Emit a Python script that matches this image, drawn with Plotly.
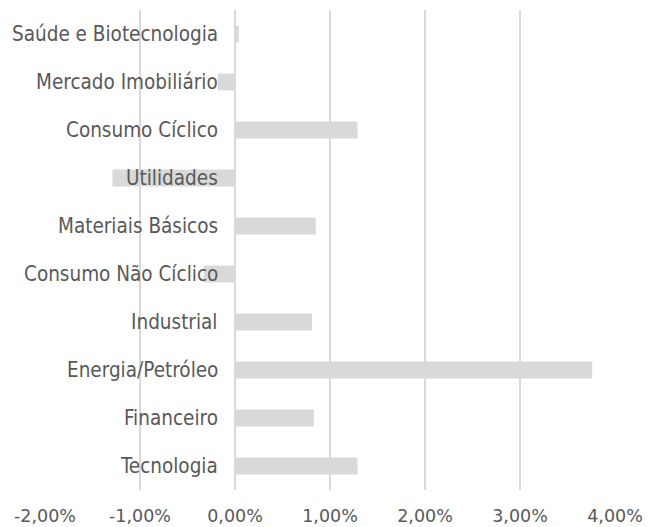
import plotly.graph_objects as go

categories = ["Tecnologia", "Financeiro", "Energia/Petróleo", "Industrial",
              "Consumo Não Cíclico", "Materiais Básicos", "Utilidades",
              "Consumo Cíclico", "Mercado Imobiliário", "Saúde e Biotecnologia"]
values = [1.29, 0.83, 3.76, 0.81, -0.33, 0.85, -1.29, 1.29, -0.18, 0.04]
tick_vals = [-2, -1, 0, 1, 2, 3, 4]
tick_text = ["-2,00%", "-1,00%", "0,00%", "1,00%", "2,00%", "3,00%", "4,00%"]

fig = go.Figure()
fig.add_trace(go.Bar(y=categories, x=values, orientation="h",
                     marker=dict(color="#d9d9d9", line=dict(width=0)),
                     hoverinfo="skip"))

for c in categories:
    fig.add_annotation(x=0, y=c, xref="x", yref="y", text=c, showarrow=False,
                       xanchor="right", yanchor="middle", xshift=-15,
                       font=dict(family="Liberation Sans Narrow, DejaVu Sans Condensed, sans-serif",
                                 size=20.5, color="#595959"))

fig.update_layout(
    width=648, height=527,
    margin=dict(l=45, r=33, t=10, b=37),
    plot_bgcolor="white", paper_bgcolor="white",
    bargap=0.65, showlegend=False,
    xaxis=dict(range=[-2, 4], tickvals=tick_vals, ticktext=tick_text,
               showgrid=True, gridcolor="#d9d9d9", gridwidth=1.6,
               zeroline=False, showline=False, automargin=False,
               tickfont=dict(family="DejaVu Sans, sans-serif", size=17.5, color="#595959"),
               ticks="", ticklabelstandoff=13),
    yaxis=dict(categoryorder="array", categoryarray=categories,
               showticklabels=False, showgrid=False, zeroline=False,
               showline=False, automargin=False, range=[-0.5, 9.5]),
)
fig.write_html("out.html", config={"displayModeBar": False},
               post_script="document.body.style.margin='0';document.body.style.overflow='hidden';")
